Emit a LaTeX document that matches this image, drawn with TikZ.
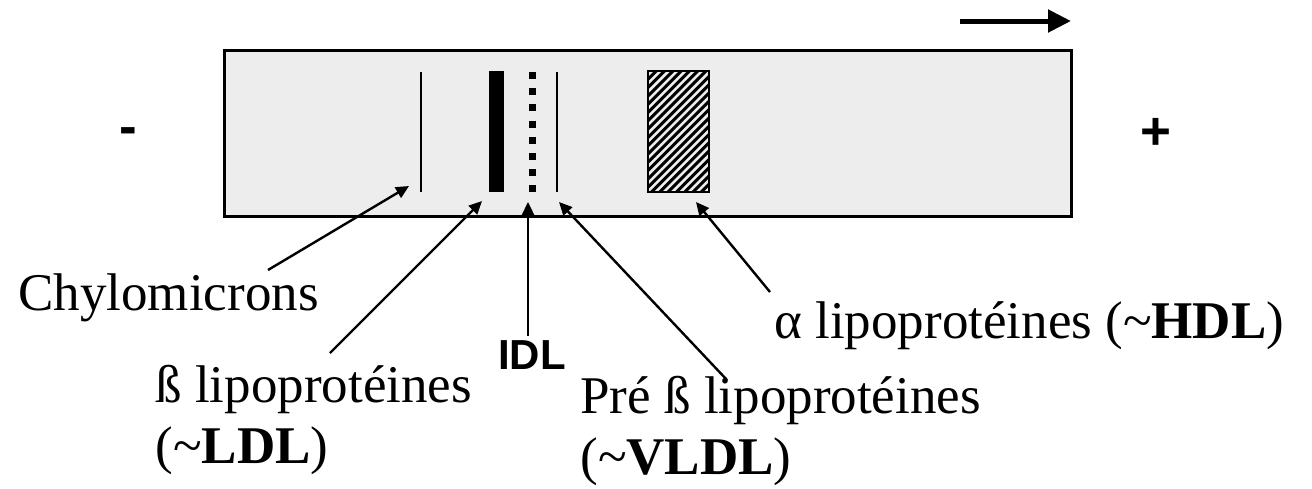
\documentclass[tikz,border=0pt]{standalone}
\usepackage{fontspec}
\setmainfont{Liberation Serif}
\newfontfamily\arialfont{Liberation Sans}
\usetikzlibrary{arrows.meta}

\begin{document}
\begin{tikzpicture}[
    x=0.5pt, y=-0.5pt,
    strip/.style={draw, line width=1.5pt, fill=black!7},
    thinband/.style={line width=1pt},
    lbl/.style={inner sep=0pt, align=left, font=\fontsize{26.5}{30.5}\selectfont},
    pole/.style={inner sep=0pt, font=\arialfont\bfseries\fontsize{26.5}{30}\selectfont},
    arrow/.style={line width=1.2pt, -{Triangle[length=6.5pt, width=6pt]}}
]
    \useasboundingbox (0,0) rectangle (1312,488);

    % gel strip and direction of migration
    \draw[strip] (224,50) rectangle (1071,216);
    \draw[line width=2.5pt, -{Triangle[length=11.5pt, width=11pt]}] (960,21) -- (1071,21);
    \node[pole] (minus) at (128,136) {-};
    \node[pole] (plus) at (1156,134) {+};

    % bands
    \draw[thinband] (421,72) -- (421,192);
    \fill (489,71) rectangle (504,192);
    \draw[line width=3.5pt, dash pattern=on 3.5pt off 4.6pt] (532.5,72) -- (532.5,194);
    \draw[thinband] (557,72) -- (557,192);
    \begin{scope}
        \clip (648,71) rectangle (709,192);
        \foreach \k in {0,...,23}
            \draw[line width=1.5pt] ({527+8.3*\k},192) -- ++(121,-121);
    \end{scope}
    \draw[line width=1pt] (648,71) rectangle (709,192);

    % labels
    \node[lbl, anchor=base west] (chylo) at (18,310) {Chylomicrons};
    \node[inner sep=0pt, font=\arialfont\bfseries\fontsize{21}{24}\selectfont] (idl) at (532,355) {IDL};
    \node[lbl, anchor=base west] (hdl) at (774,338) {α\ lipoprotéines (\textasciitilde\textbf{HDL})};
    \node[lbl, anchor=base west] (ldl) at (155,463) {ß lipoprotéines\\(\textasciitilde\textbf{LDL})};
    \node[lbl, anchor=base west] (vldl) at (580,474) {Pré ß lipoprotéines\\(\textasciitilde\textbf{VLDL})};

    \coordinate (chylotail) at (268,270);
    \coordinate (chylotip) at (409,186);
    \coordinate (ldltail) at (330,353);
    \coordinate (ldltip) at (482,201);
    \coordinate (idltip) at (528,202);
    \coordinate (vldltail) at (727,380);
    \coordinate (vldltip) at (559,202);
    \coordinate (hdltail) at (770,292);
    \coordinate (hdltip) at (696,202);

    \draw[arrow] (chylotail) -- (chylotip);
    \draw[arrow] (ldltail) -- (ldltip);
    \draw[arrow] (idl.north -| idltip) ++(0,-4) -- (idltip);
    \draw[arrow] (vldltail) -- (vldltip);
    \draw[arrow] (hdltail) -- (hdltip);

\end{tikzpicture}
\end{document}
